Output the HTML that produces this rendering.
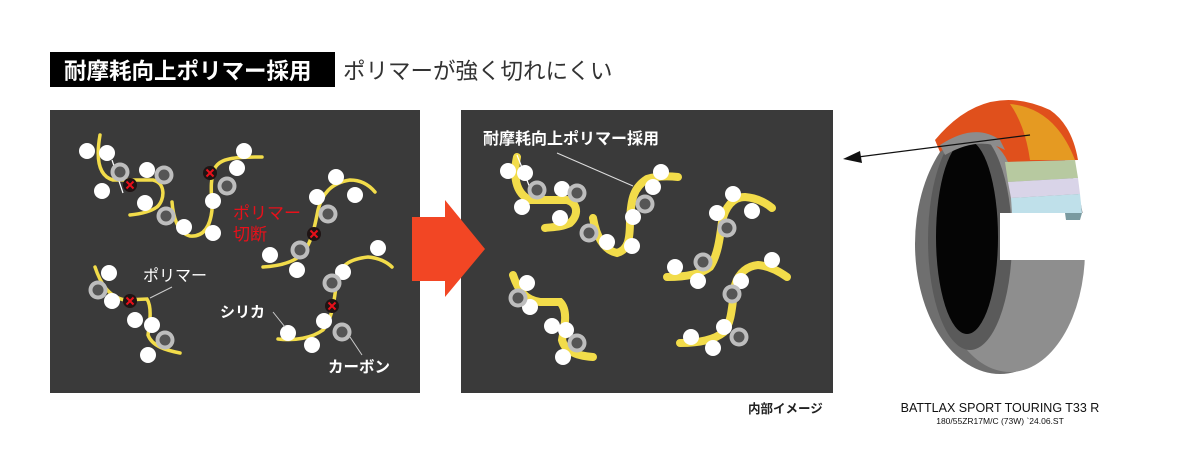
<!DOCTYPE html>
<html><head><meta charset="utf-8"><style>
html,body{margin:0;padding:0;background:#fff;}
body{width:1200px;height:473px;overflow:hidden;position:relative;font-family:"Liberation Sans","Noto Sans CJK JP",sans-serif;}
</style></head><body>
<svg width="1200" height="473" viewBox="0 0 1200 473" xmlns="http://www.w3.org/2000/svg" style="position:absolute;left:0;top:0">
<defs>
<g id="w"><circle r="8" fill="#fff"/></g>
<g id="g"><circle r="9.5" fill="#bdbdbd"/><circle r="5.5" fill="#555"/></g>
<g id="x"><circle r="7" fill="#1f1414"/><path d="M-3.5,-3.5L3.5,3.5M3.5,-3.5L-3.5,3.5" stroke="#e8101a" stroke-width="2"/></g>
</defs>
<!-- title -->
<rect x="50" y="52" width="285" height="35" fill="#000"/>
<text x="64" y="79" font-size="22.5" font-weight="bold" fill="#fff" font-family="Liberation Sans, Noto Sans CJK JP, sans-serif">耐摩耗向上ポリマー採用</text>
<text x="343" y="79" font-size="22.5" fill="#333" font-family="Liberation Sans, Noto Sans CJK JP, sans-serif">ポリマーが強く切れにくい</text>

<!-- left panel -->
<rect x="50" y="110" width="370" height="283" fill="#3a3a3a"/>
<g fill="none" stroke="#f2dc4a" stroke-width="3.5" stroke-linecap="round">
<path d="M100,135 C96,158 98,176 113,180 L153,180 C166,183 165,200 157,207 C150,212 140,214 130,215"/>
<path d="M172,202 C173,215 177,233 190,236 C203,237 210,228 212,210 C212,195 209,182 215,168 C220,158 235,157 262,157"/>
<path d="M263,267 C280,266 295,262 303,253 C312,242 315,225 318,210 C322,195 330,183 350,180 C362,180 370,186 375,192"/>
<path d="M95,267 C100,282 108,297 125,300 L147,299 C152,307 150,322 148,335 C152,346 165,350 180,353"/>
<path d="M278,339 C295,341 312,338 323,330 C333,318 334,300 337,280 C340,265 350,259 368,257 C380,258 388,263 392,267"/>
</g>
<line x1="112" y1="160" x2="123" y2="193" stroke="#fff" stroke-width="1.2"/>
<use href="#w" x="87" y="151"/><use href="#w" x="107" y="153"/><use href="#w" x="102" y="191"/><use href="#w" x="147" y="170"/><use href="#w" x="145" y="203"/>
<use href="#g" x="120" y="172"/><use href="#g" x="164" y="175"/><use href="#x" x="130" y="185"/>
<use href="#w" x="184" y="227"/><use href="#w" x="213" y="233"/><use href="#w" x="213" y="201"/><use href="#w" x="237" y="168"/><use href="#w" x="244" y="151"/>
<use href="#g" x="166" y="216"/><use href="#g" x="227" y="186"/><use href="#x" x="210" y="173"/>
<use href="#w" x="270" y="255"/><use href="#w" x="297" y="270"/><use href="#w" x="317" y="197"/><use href="#w" x="336" y="177"/><use href="#w" x="355" y="195"/>
<use href="#g" x="328" y="214"/><use href="#g" x="300" y="250"/><use href="#x" x="314" y="234"/>
<use href="#w" x="109" y="273"/><use href="#w" x="112" y="301"/><use href="#w" x="135" y="320"/><use href="#w" x="152" y="325"/><use href="#w" x="148" y="355"/>
<use href="#g" x="98" y="290"/><use href="#g" x="165" y="340"/><use href="#x" x="130" y="301"/>
<use href="#w" x="288" y="333"/><use href="#w" x="312" y="345"/><use href="#w" x="324" y="321"/><use href="#w" x="343" y="272"/><use href="#w" x="378" y="248"/>
<use href="#g" x="332" y="283"/><use href="#g" x="342" y="332"/><use href="#x" x="332" y="306"/>
<text x="233" y="219" font-size="17" fill="#e8101a">ポリマー</text>
<text x="233" y="240" font-size="17" fill="#e8101a">切断</text>
<text x="143" y="281" font-size="16" fill="#fff">ポリマー</text>
<line x1="172" y1="287" x2="150" y2="298" stroke="#ccc" stroke-width="1"/>
<text x="220" y="317" font-size="15" font-weight="bold" fill="#fff">シリカ</text>
<line x1="273" y1="312" x2="285" y2="327" stroke="#ccc" stroke-width="1"/>
<text x="328" y="372" font-size="15.5" font-weight="bold" fill="#fff">カーボン</text>
<line x1="350" y1="337" x2="362" y2="355" stroke="#ccc" stroke-width="1"/>

<!-- right panel -->
<rect x="461" y="110" width="372" height="283" fill="#3a3a3a"/>
<!-- arrow -->
<polygon points="412,217 445,217 445,200 485,249 445,297 445,281 412,281" fill="#f24624"/>
<g fill="none" stroke="#f2dc4a" stroke-width="8" stroke-linecap="round">
<path d="M517,157 C513,175 515,193 530,200 L567,200 C578,203 579,215 570,223 C562,227 553,227 545,228"/>
<path d="M593,218 C596,235 603,250 617,253 C628,250 630,240 630,220 C631,200 633,188 647,179 C657,176 668,176 678,177"/>
<path d="M667,277 C682,277 700,275 710,267 C718,255 720,237 722,222 C725,207 733,197 745,197 C757,198 766,203 772,208"/>
<path d="M680,343 C695,343 713,341 724,332 C732,322 732,305 735,285 C739,272 748,266 758,265 C770,266 780,272 787,277"/>
<path d="M513,275 C518,290 525,300 540,302 L560,302 C568,310 565,325 562,340 C565,352 578,356 593,357"/>
</g>
<line x1="517" y1="155" x2="530" y2="188" stroke="#fff" stroke-width="1.2"/>
<use href="#w" x="508" y="171"/><use href="#w" x="525" y="173"/><use href="#w" x="522" y="207"/><use href="#w" x="562" y="189"/><use href="#w" x="560" y="218"/>
<use href="#g" x="537" y="190"/><use href="#g" x="577" y="193"/>
<use href="#w" x="607" y="242"/><use href="#w" x="632" y="246"/><use href="#w" x="633" y="217"/><use href="#w" x="653" y="187"/><use href="#w" x="661" y="172"/>
<use href="#g" x="589" y="233"/><use href="#g" x="645" y="204"/>
<use href="#w" x="675" y="267"/><use href="#w" x="698" y="281"/><use href="#w" x="717" y="213"/><use href="#w" x="733" y="194"/><use href="#w" x="752" y="211"/>
<use href="#g" x="727" y="228"/><use href="#g" x="703" y="262"/>
<use href="#w" x="691" y="337"/><use href="#w" x="713" y="348"/><use href="#w" x="724" y="327"/><use href="#w" x="741" y="281"/><use href="#w" x="772" y="260"/>
<use href="#g" x="732" y="294"/><use href="#g" x="739" y="337"/>
<use href="#w" x="527" y="283"/><use href="#w" x="530" y="307"/><use href="#w" x="552" y="326"/><use href="#w" x="566" y="330"/><use href="#w" x="563" y="357"/>
<use href="#g" x="518" y="298"/><use href="#g" x="577" y="343"/>
<text x="483" y="144" font-size="16" font-weight="bold" fill="#fff">耐摩耗向上ポリマー採用</text>
<line x1="557" y1="153" x2="633" y2="186" stroke="#ddd" stroke-width="1"/>
<text x="748" y="413" font-size="12.5" font-weight="bold" fill="#222">内部イメージ</text>

<!-- tire -->
<ellipse cx="1000" cy="244" rx="85" ry="130" fill="#6f6f6f"/>
<ellipse cx="1010" cy="250" rx="75" ry="122" fill="#8e8e8e"/>
<ellipse cx="970" cy="240" rx="42" ry="110" fill="#5a5a5a"/>
<ellipse cx="967" cy="237" rx="31" ry="97" fill="#050505"/>
<path d="M935,140 Q985,80 1050,110 Q1072,125 1078,160 L1008,162 Q998,140 975,138 Q955,140 940,152 Z" fill="#e0501c"/>
<path d="M1010,104 Q1055,108 1075,160 L1030,160 Q1025,125 1010,104 Z" fill="#e59a22"/>
<path d="M940,145 Q975,122 1000,140 L1005,150 Q980,135 945,155 Z" fill="#8c8c8c"/>
<polygon points="1000,213 1092,213 1092,260 1000,260" fill="#fff"/>
<polygon points="1005,162 1075,160 1078,178 1008,182" fill="#b7c9a0"/>
<polygon points="1008,182 1078,178 1080,194 1011,198" fill="#d9d4e8"/>
<polygon points="1011,198 1080,194 1082,213 1012,213" fill="#bfe0ea"/>
<polygon points="1065,213 1082,213 1080,220 1066,220" fill="#7a9aa0"/>
<line x1="1030" y1="135" x2="858" y2="157" stroke="#111" stroke-width="1.2"/>
<polygon points="843,159 860,151 862,163" fill="#111"/>
<text x="1000" y="412" font-size="12.5" fill="#111" text-anchor="middle">BATTLAX SPORT TOURING T33 R</text>
<text x="1000" y="424" font-size="8.5" fill="#111" text-anchor="middle">180/55ZR17M/C (73W)   `24.06.ST</text>
</svg>
</body></html>
